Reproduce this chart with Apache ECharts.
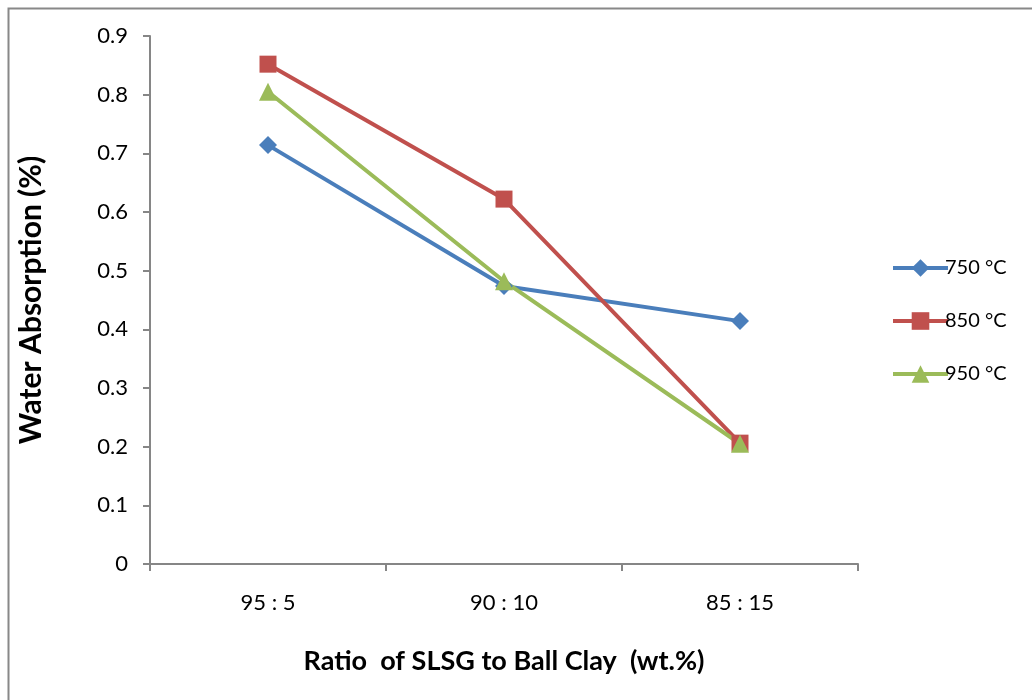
<!DOCTYPE html>
<html><head><meta charset="utf-8">
<script src="https://cdn.jsdelivr.net/npm/echarts@6/dist/echarts.min.js"></script>
<style>html,body{margin:0;padding:0;background:#fff}#c{width:1032px;height:700px}</style>
</head><body><div id="c"></div>
<script>
const categories = ['95 : 5', '90 : 10', '85 : 15'];
const s750 = [0.714, 0.474, 0.414];
const s850 = [0.852, 0.622, 0.206];
const s950 = [0.805, 0.482, 0.205];
const seriesNames = ['750 °C', '850 °C', '950 °C'];

const font = 'Lato, "Open Sans", sans-serif';
const chart = echarts.init(document.getElementById('c'), null, {renderer: 'canvas'});
function mk(name, data, color, symbol, size) {
  return {
    name, type: 'line', data, symbol, symbolSize: size,
    lineStyle: {color, width: 4}, itemStyle: {color},
    emphasis: {disabled: true}, animation: false, z: 3
  };
}
chart.setOption({
  animation: false,
  graphic: [{type: 'rect', shape: {x: 8.5, y: 8.5, width: 1100, height: 800},
    style: {fill: null, stroke: '#888', lineWidth: 2}, silent: true}],
  grid: {left: 150, right: 174, top: 36, bottom: 136},
  xAxis: {
    type: 'category', data: categories, boundaryGap: true,
    axisLine: {lineStyle: {color: '#868686', width: 2}},
    axisTick: {show: true, length: 7, lineStyle: {color: '#868686', width: 2}},
    axisLabel: {color: '#000', fontSize: 22, fontFamily: font, margin: 28},
    name: 'Ratio  of SLSG to Ball Clay  (wt.%)', nameLocation: 'middle', nameGap: 84,
    nameTextStyle: {color: '#000', fontSize: 27, fontWeight: 'bold', fontFamily: font},
    splitLine: {show: false}
  },
  yAxis: {
    type: 'value', min: 0, max: 0.9, interval: 0.1,
    axisLine: {show: true, lineStyle: {color: '#868686', width: 2}},
    axisTick: {show: true, length: 7, lineStyle: {color: '#868686', width: 2}},
    axisLabel: {color: '#000', fontSize: 22, fontFamily: font, margin: 22,
      formatter: v => (Math.round(v*10)/10).toString()},
    splitLine: {show: false},
    name: 'Water Absorption (%)', nameLocation: 'middle', nameGap: 104, nameRotate: 90,
    nameTextStyle: {color: '#000', fontSize: 30, fontWeight: 'bold', fontFamily: font}
  },
  legend: {
    orient: 'vertical', left: 886, top: 253, itemWidth: 55, itemHeight: 22, itemGap: 33,
    lineStyle: {width: 4},
    textStyle: {color: '#000', fontSize: 20, fontFamily: font, padding: [0,0,0,-8]},
    data: seriesNames
  },
  series: [
    mk(seriesNames[0], s750, '#4A7EBB', 'diamond', 18),
    mk(seriesNames[1], s850, '#C0504D', 'rect', 17),
    mk(seriesNames[2], s950, '#9BBB59', 'triangle', 18)
  ]
});
</script></body></html>
